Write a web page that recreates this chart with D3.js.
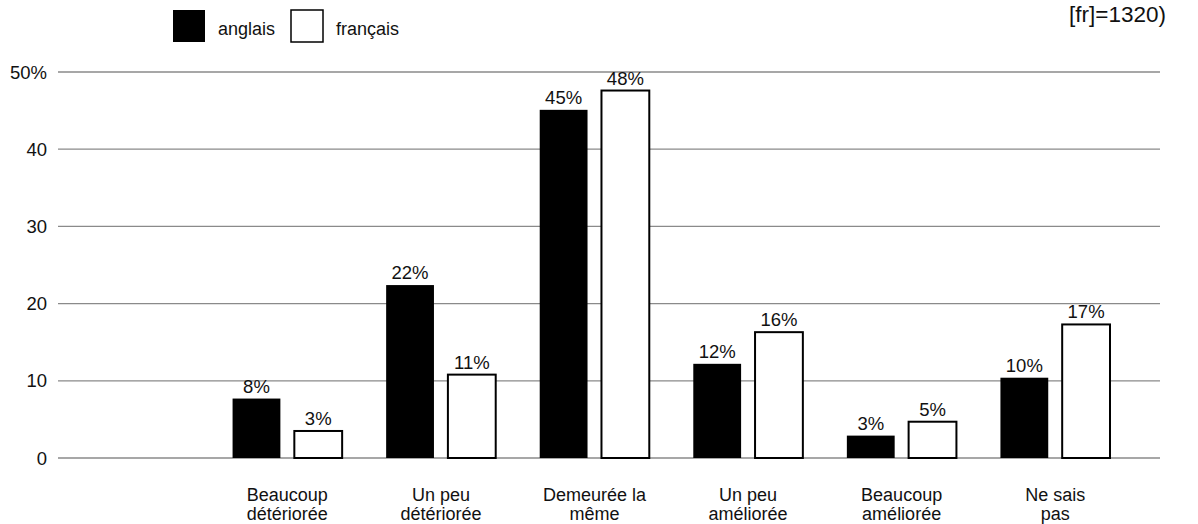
<!DOCTYPE html>
<html>
<head>
<meta charset="utf-8">
<script src="https://cdn.jsdelivr.net/npm/d3@7"></script>
<style>
  html, body { margin: 0; padding: 0; background: #fff; }
  svg { display: block; font-family: Helvetica, Arial, "Liberation Sans", sans-serif; }
</style>
</head>
<body>
<svg id="chart" width="1198" height="524"></svg>
<script>
// ---- data ----
const categories = ["Beaucoup|détériorée", "Un peu|détériorée", "Demeurée la|même", "Un peu|améliorée", "Beaucoup|améliorée", "Ne sais|pas"];
const series = ["anglais", "français"];
const anglais = [7.7, 22.4, 45.1, 12.2, 2.9, 10.4];
const francais = [3.5, 10.8, 47.6, 16.3, 4.7, 17.3];
const anglaisLabels = ["8%", "22%", "45%", "12%", "3%", "10%"];
const francaisLabels = ["3%", "11%", "48%", "16%", "5%", "17%"];
const yTicks = [0, 10, 20, 30, 40, 50];
const yTickLabels = ["0", "10", "20", "30", "40", "50%"];
const noteText = "[fr]=1320)";

// ---- layout ----
const svg = d3.select("#chart");
const gridLeft = 58, gridRight = 1160;
const bandsLeft = 57, bandsRight = 1132;
const step = (bandsRight - bandsLeft) / (categories.length + 1);
const fs = 18.5;

const y = d3.scaleLinear().domain([0, 50]).range([458, 72]);
const x0 = d3.scaleBand().domain(categories).range([bandsLeft + step, bandsRight]);
const x1 = d3.scaleBand().domain(series).range([22, x0.bandwidth() - 22]).paddingInner(14 / 62);

const fills = { "anglais": "#000", "français": "#fff" };

// gridlines
svg.append("g").selectAll("line").data(yTicks).join("line")
  .attr("x1", gridLeft).attr("x2", gridRight)
  .attr("y1", d => y(d)).attr("y2", d => y(d))
  .attr("stroke", "#8a8a8a").attr("stroke-width", 1.3);

// y tick labels
svg.append("g").selectAll("text").data(yTicks).join("text")
  .attr("x", 47).attr("y", d => y(d)).attr("dy", "0.36em")
  .attr("text-anchor", "end").attr("font-size", fs).attr("fill", "#111")
  .text((d, i) => yTickLabels[i]);

// bars
const rows = categories.map((c, i) => ({
  cat: c,
  vals: [
    { s: "anglais", v: anglais[i], lab: anglaisLabels[i] },
    { s: "français", v: francais[i], lab: francaisLabels[i] }
  ]
}));

const groups = svg.append("g").selectAll("g").data(rows).join("g")
  .attr("transform", d => `translate(${x0(d.cat)},0)`);

groups.selectAll("rect").data(d => d.vals).join("rect")
  .attr("x", d => x1(d.s)).attr("width", x1.bandwidth())
  .attr("y", d => y(d.v)).attr("height", d => y(0) - y(d.v))
  .attr("fill", d => fills[d.s])
  .attr("stroke", "#000").attr("stroke-width", d => d.s === "français" ? 2 : 0);

groups.selectAll("text").data(d => d.vals).join("text")
  .attr("x", d => x1(d.s) + x1.bandwidth() / 2)
  .attr("y", d => y(d.v) - 6)
  .attr("text-anchor", "middle").attr("font-size", fs).attr("fill", "#111")
  .text(d => d.lab);

// x labels (two lines each, separate text elements)
const xLines = [];
categories.forEach(c => c.split("|").forEach((p, i) => xLines.push({ c, p, i })));
svg.append("g").selectAll("text").data(xLines).join("text")
  .attr("x", d => x0(d.c) + x0.bandwidth() / 2)
  .attr("y", d => 501 + d.i * 18.7)
  .attr("text-anchor", "middle").attr("font-size", 18).attr("fill", "#111")
  .text(d => d.p);

// legend
const legend = svg.append("g");
const legItems = [
  { s: "anglais", x: 173 },
  { s: "français", x: 291 }
];
legItems.forEach(it => {
  legend.append("rect").attr("x", it.x).attr("y", 10).attr("width", 32).attr("height", 32)
    .attr("fill", fills[it.s]).attr("stroke", "#000").attr("stroke-width", it.s === "français" ? 1.5 : 0);
  legend.append("text").attr("x", it.x + 45).attr("y", 35)
    .attr("font-size", 18).attr("fill", "#111").text(it.s);
});

// note (top right)
svg.append("text").attr("x", 1166).attr("y", 21.5)
  .attr("text-anchor", "end").attr("font-size", 22.5).attr("fill", "#111").text(noteText);
</script>
</body>
</html>
